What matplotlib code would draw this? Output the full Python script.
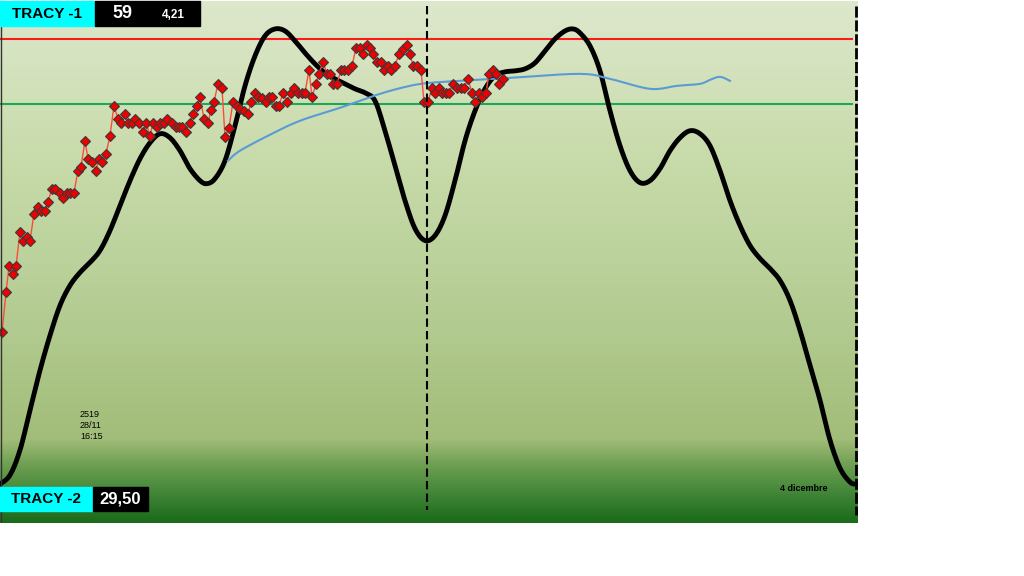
import numpy as np
import matplotlib.pyplot as plt
from matplotlib.colors import LinearSegmentedColormap
from matplotlib.patches import Rectangle

# Chart values (chart units: x = time slot, y = level read top-down)
curve_x = [0, 10, 20, 30, 40, 50, 60, 70, 80, 90, 100, 110, 120, 130, 140, 150, 160,
           170, 180, 190, 200, 207, 215, 225, 235, 245, 255, 265, 275, 285, 295, 305,
           315, 325, 335, 345, 355, 365, 375, 385, 395, 405, 415, 425, 435, 445, 455,
           465, 475, 485, 495, 505, 515, 525, 535, 545, 555, 565, 573, 580, 590, 600,
           610, 620, 630, 640, 650, 660, 670, 680, 690, 700, 710, 720, 730, 740, 750,
           760, 770, 780, 790, 800, 810, 820, 830, 840, 850, 856]
curve_y = [484, 475, 450, 410, 370, 335, 305, 285, 272, 262, 250, 230, 205, 180, 158,
           142, 133, 137, 150, 168, 180, 183, 178, 160, 125, 85, 55, 35, 28, 30, 40, 52,
           63, 72, 78, 83, 88, 92, 100, 130, 165, 200, 228, 240, 235, 215, 180, 140,
           110, 88, 75, 71, 70, 68, 62, 50, 38, 30, 28, 32, 45, 70, 110, 145, 170, 182,
           180, 168, 150, 137, 130, 133, 145, 170, 200, 225, 245, 258, 268, 280, 300,
           330, 365, 400, 440, 468, 482, 484]

avg_x = [228, 240, 270, 300, 340, 380, 410, 430, 460, 510, 580, 610, 650, 677, 700, 710, 720, 730]
avg_y = [160, 150, 134, 120, 107, 93, 85, 82, 80, 77, 73, 78, 88, 85, 83, 79, 76, 80]

price_x = [2, 6, 9, 13, 16, 20, 23, 27, 30, 34, 38, 41, 45, 48, 52, 55, 60, 63, 67, 70,
           74, 78, 81, 85, 88, 92, 96, 99, 102, 106, 110, 114, 118, 121, 125, 128, 132,
           135, 139, 143, 146, 150, 153, 157, 160, 164, 167, 172, 176, 179, 182, 186,
           190, 193, 197, 200, 204, 208, 211, 214, 218, 222, 225, 229, 233, 237, 240,
           244, 248, 251, 255, 258, 262, 266, 269, 272, 276, 279, 283, 287, 291, 294,
           298, 302, 305, 309, 312, 316, 319, 323, 327, 330, 333, 337, 341, 344, 348,
           352, 356, 360, 363, 367, 370, 373, 377, 381, 384, 388, 391, 395, 399, 403,
           407, 410, 413, 417, 421, 424, 428, 432, 435, 439, 442, 446, 449, 453, 457,
           461, 464, 468, 472, 475, 479, 482, 486, 489, 493, 496, 499, 503]
price_y = [332, 292, 266, 274, 266, 231, 240, 236, 240, 213, 206, 210, 210, 201, 188,
           188, 192, 197, 192, 192, 192, 170, 166, 140, 158, 161, 170, 158, 161, 153,
           135, 105, 118, 122, 113, 122, 122, 118, 122, 131, 122, 135, 122, 126, 122,
           122, 118, 122, 126, 126, 126, 131, 122, 113, 105, 96, 118, 122, 109, 101,
           83, 87, 136, 127, 101, 105, 108, 110, 113, 101, 92, 96, 97, 101, 96, 96, 105,
           105, 92, 101, 92, 87, 92, 92, 92, 69, 96, 83, 73, 61, 73, 73, 83, 83, 69, 69,
           69, 65, 47, 47, 53, 44, 47, 53, 61, 61, 69, 65, 69, 65, 53, 48, 44, 53, 65,
           65, 69, 101, 101, 87, 92, 87, 92, 92, 92, 83, 87, 87, 87, 78, 92, 101, 92,
           96, 92, 73, 69, 73, 83, 78]

upper_level = 38
lower_level = 103
today_x = 427
end_x = 856


def smooth(xs, ys, n=12):
    # Catmull-Rom smoothing, like a spreadsheet "smoothed line"
    p = np.column_stack([xs, ys]).astype(float)
    p = np.vstack([p[0], p, p[-1]])
    out = []
    t = np.linspace(0, 1, n, endpoint=False)[:, None]
    for i in range(1, len(p) - 2):
        p0, p1, p2, p3 = p[i - 1], p[i], p[i + 1], p[i + 2]
        seg = 0.5 * ((2 * p1) + (-p0 + p2) * t + (2 * p0 - 5 * p1 + 4 * p2 - p3) * t ** 2
                     + (-p0 + 3 * p1 - 3 * p2 + p3) * t ** 3)
        out.append(seg)
    out.append(p[-2][None, :])
    out = np.vstack(out)
    return out[:, 0], out[:, 1]


fig = plt.figure(figsize=(10.24, 5.76), dpi=100)
ax = fig.add_axes([0, 53 / 576, 858 / 1024, 522 / 576])
ax.set_xlim(0, 858)
ax.set_ylim(523, 0)
ax.axis('off')

# background gradient
cmap = LinearSegmentedColormap.from_list('bg', [
    (0.0, '#dde8cc'), (0.3, '#c8dbaa'), (0.5, '#bbd29c'), (0.84, '#a2bd79'),
    (0.89, '#6e9f52'), (0.94, '#45883a'), (1.0, '#1a6b1a')])
grad = np.linspace(0, 1, 256).reshape(-1, 1)
ax.imshow(grad, cmap=cmap, aspect='auto', extent=[0, 858, 523, 0], zorder=0)

# level lines
ax.plot([0, 852], [upper_level, upper_level], color='#ff1a1a', lw=1.5, zorder=2)
ax.plot([0, 852], [lower_level, lower_level], color='#1aaa55', lw=1.5, zorder=2)

# black cycle curve
cx, cy = smooth(curve_x, curve_y)
ax.plot(cx, cy, color='black', lw=3.5, solid_capstyle='round', zorder=3)

# moving average
ax.plot(*smooth(avg_x, avg_y), color='#5b9bd5', lw=1.5, zorder=3)

# price series
ax.plot(price_x, price_y, color='#ff4a3a', lw=1, marker='D', markersize=5.5,
        markerfacecolor='#ee0000', markeredgecolor='#3a3a3a', markeredgewidth=0.8, zorder=4)

# vertical markers
ax.plot([today_x, today_x], [5, 510], color='black', lw=1.5, ls=(0, (4, 2)), zorder=5)
ax.plot([end_x, end_x], [5, 515], color='black', lw=2, ls=(0, (4, 1)), zorder=5)
ax.plot([0.5, 0.5], [0, 523], color='#333333', lw=1, zorder=5)

# label boxes
ax.add_patch(Rectangle((0, 0), 95, 25, color='#00ffff', zorder=6, clip_on=False))
ax.add_patch(Rectangle((95, 0), 105, 25, color='black', zorder=6, clip_on=False))
ax.text(47, 13, 'TRACY -1', ha='center', va='center', fontsize=11, fontweight='bold',
        family='Liberation Sans', zorder=7)
ax.text(122, 13, '59', ha='center', va='center', fontsize=13, fontweight='bold',
        color='white', family='Liberation Sans', zorder=7)
ax.text(173, 14, '4,21', ha='center', va='center', fontsize=8.5, fontweight='bold',
        color='white', family='Liberation Sans', zorder=7)

ax.add_patch(Rectangle((0, 487), 93, 24, color='#00ffff', zorder=6))
ax.add_patch(Rectangle((93, 487), 55, 24, color='black', zorder=6))
ax.text(46, 499, 'TRACY -2', ha='center', va='center', fontsize=11, fontweight='bold',
        family='Liberation Sans', zorder=7)
ax.text(120, 499, '29,50', ha='center', va='center', fontsize=12, fontweight='bold',
        color='white', family='Liberation Sans', zorder=7)

ax.text(80, 425, '2519\n28/11\n16:15', ha='left', va='center', fontsize=6.5,
        linespacing=1.3, family='Liberation Sans', zorder=7)
ax.text(780, 488, '4 dicembre', ha='left', va='center', fontsize=6.5,
        fontweight='bold', family='Liberation Sans', zorder=7)

fig.savefig('out.png', dpi=100)
